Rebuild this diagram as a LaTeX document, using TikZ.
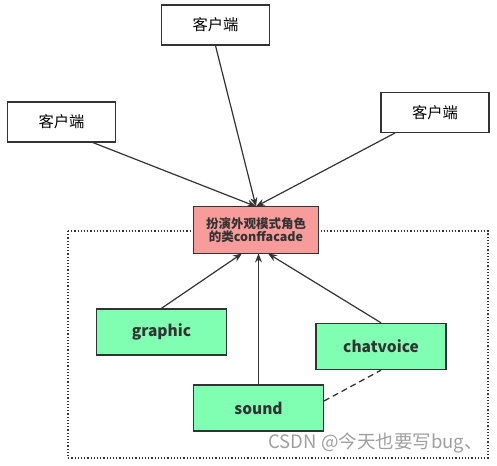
\documentclass[tikz,border=0pt]{standalone}
\usepackage{fontspec}
\setmainfont{Noto Sans CJK SC}
\usetikzlibrary{arrows.meta}
\definecolor{ln}{RGB}{51,51,51}
\definecolor{redfill}{RGB}{248,155,155}
\definecolor{greenfill}{RGB}{128,255,178}
\tikzset{
  client/.style={draw=ln, line width=1.4pt, fill=white, minimum width=108pt, minimum height=40pt, inner sep=0pt, font=\fontsize{15.3}{17}\selectfont},
  facade/.style={draw=ln, line width=1.4pt, fill=redfill, minimum width=125pt, minimum height=47pt, inner sep=0pt, align=center, text=ln, font=\fontsize{12.5}{15}\selectfont\bfseries},
  module/.style={draw=ln, line width=1.4pt, fill=greenfill, minimum width=130pt, minimum height=46pt, inner sep=0pt, text=ln, font=\fontsize{15.5}{18}\selectfont\bfseries},
  conn/.style={draw=ln, line width=1.2pt, -{Stealth[length=9pt,width=7pt]}},
}
\begin{document}
\begin{tikzpicture}[x=1pt,y=-1pt]
\useasboundingbox (0,0) rectangle (497,465);
\draw[ln, line width=1.2pt, dotted] (68,231) rectangle (488,458);
\node[client] (c1) at (215.5,25) {客户端};
\node[client] (c2) at (61.5,122) {客户端};
\node[client] (c3) at (435,112.5) {客户端};
\node[facade] (f) at (256,230) {扮演外观模式角色\\[-2pt]的类conffacade};
\node[module] (g) at (161.5,332) {graphic};
\node[module] (cv) at (381,346.5) {chatvoice};
\node[module] (s) at (258.5,408) {sound};
\coordinate (ft) at (256,206.5);
\coordinate (c2a) at (91.5,142);
\coordinate (c3a) at (395,133);
\coordinate (se) at (324,401);
\draw[conn] (c1.south) -- (ft);
\draw[conn] (c2a) -- (ft);
\draw[conn] (c3a) -- (ft);
\draw[conn] (g.north) -- (242,253.5);
\draw[conn] (s.north) -- (258.5,253.5);
\draw[conn] (cv.north) -- (268,253.5);
\draw[ln, line width=1.3pt, dash pattern=on 6pt off 4pt] (se) -- (cv.south);
\node[text=gray!75, font=\fontsize{18.5}{20}\selectfont, anchor=east, inner sep=0pt] (wm) at (483,443) {CSDN @今天也要写bug、};
\end{tikzpicture}
\end{document}
